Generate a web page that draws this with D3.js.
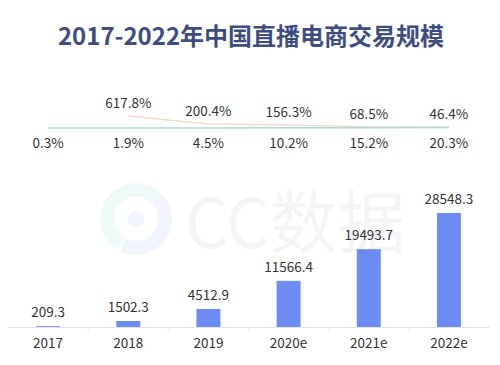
<!DOCTYPE html>
<html><head><meta charset="utf-8">
<script src="https://cdn.jsdelivr.net/npm/d3@7"></script>
<style>body{margin:0;background:#fff}svg{display:block}</style>
</head><body>
<script>
const categories = ["2017","2018","2019","2020e","2021e","2022e"];
const gmv = [209.3,1502.3,4512.9,11566.4,19493.7,28548.3];
const growth = [null,617.8,200.4,156.3,68.5,46.4];
const penetration = [0.3,1.9,4.5,10.2,15.2,20.3];
const growthLabels = ["","617.8%","200.4%","156.3%","68.5%","46.4%"];
const penetrationLabels = ["0.3%","1.9%","4.5%","10.2%","15.2%","20.3%"];

const W=500,H=365;
const svg=d3.select("body").append("svg").attr("width",W).attr("height",H);
const font="'Noto Sans CJK SC','Noto Sans',sans-serif";

// watermark
const wm=svg.append("g");
wm.append("path").attr("d",d3.arc()({innerRadius:22,outerRadius:36,startAngle:-2.6,endAngle:0.8})).attr("transform","translate(136,219)").attr("fill","#eefaf7");
wm.append("path").attr("d",d3.arc()({innerRadius:22,outerRadius:36,startAngle:0.8,endAngle:3.6})).attr("transform","translate(136,219)").attr("fill","#f1f4fc");
wm.append("circle").attr("cx",136).attr("cy",219).attr("r",8).attr("fill","#f1f4fc");
wm.append("text").attr("x",185).attr("y",248).attr("font-family",font).attr("font-size",68)
  .attr("fill","#f3f4f6").text("CC数据");

// title
svg.append("text").attr("x",251).attr("y",45).attr("text-anchor","middle")
  .attr("font-family",font).attr("font-weight","bold").attr("font-size",24)
  .attr("fill","#3f4c82").text("2017-2022年中国直播电商交易规模");

const x=d3.scaleBand().domain(categories).range([8,489]);
const xc=d=>x(d)+x.bandwidth()/2;
const y=d3.scaleLinear().domain([0,28548.3]).range([327,213]);

// bars
svg.selectAll("rect.bar").data(gmv).enter().append("rect")
  .attr("x",(d,i)=>xc(categories[i])-12).attr("width",24)
  .attr("y",d=>y(d)).attr("height",d=>y(0)-y(d)).attr("fill","#6c8cf4");
svg.selectAll("text.val").data(gmv).enter().append("text")
  .attr("x",(d,i)=>xc(categories[i])).attr("y",d=>y(d)-9)
  .attr("text-anchor","middle").attr("font-family",font).attr("font-size",13.5).attr("fill","#333")
  .text(d=>d.toFixed(1));

// axis
const ax=svg.append("g").attr("transform","translate(0,327)").call(d3.axisBottom(x).tickSize(0).tickPadding(11));
ax.select(".domain").attr("stroke","#e3e3e3");
ax.selectAll("text").attr("font-family",font).attr("font-size",13.5).attr("fill","#333");
svg.selectAll("line.tk").data(categories.slice(1)).enter().append("line")
  .attr("x1",d=>x(d)).attr("x2",d=>x(d)).attr("y1",327).attr("y2",332).attr("stroke","#eeeeee");

// lines
const yl=d3.scaleLinear().domain([0,617.8]).range([128,116]);
const line=d3.line().defined(d=>d.v!=null).x(d=>xc(d.c)).y(d=>yl(d.v));
svg.append("path").datum(categories.map((c,i)=>({c,v:growth[i]})))
  .attr("d",line).attr("fill","none").attr("stroke","#f1dccb").attr("stroke-width",1.5);
svg.append("path").datum(categories.map((c,i)=>({c,v:penetration[i]})))
  .attr("d",line).attr("fill","none").attr("stroke","#a9dcd0").attr("stroke-width",1.5);

svg.selectAll("text.g").data(growth).enter().append("text")
  .attr("x",(d,i)=>xc(categories[i])).attr("y",d=>d==null?0:yl(d)-8)
  .attr("text-anchor","middle").attr("font-family",font).attr("font-size",13.5).attr("fill","#333")
  .text((d,i)=>growthLabels[i]);
svg.selectAll("text.p").data(penetration).enter().append("text")
  .attr("x",(d,i)=>xc(categories[i])).attr("y",d=>yl(d)+20)
  .attr("text-anchor","middle").attr("font-family",font).attr("font-size",13.5).attr("fill","#333")
  .text((d,i)=>penetrationLabels[i]);
</script>
</body></html>
